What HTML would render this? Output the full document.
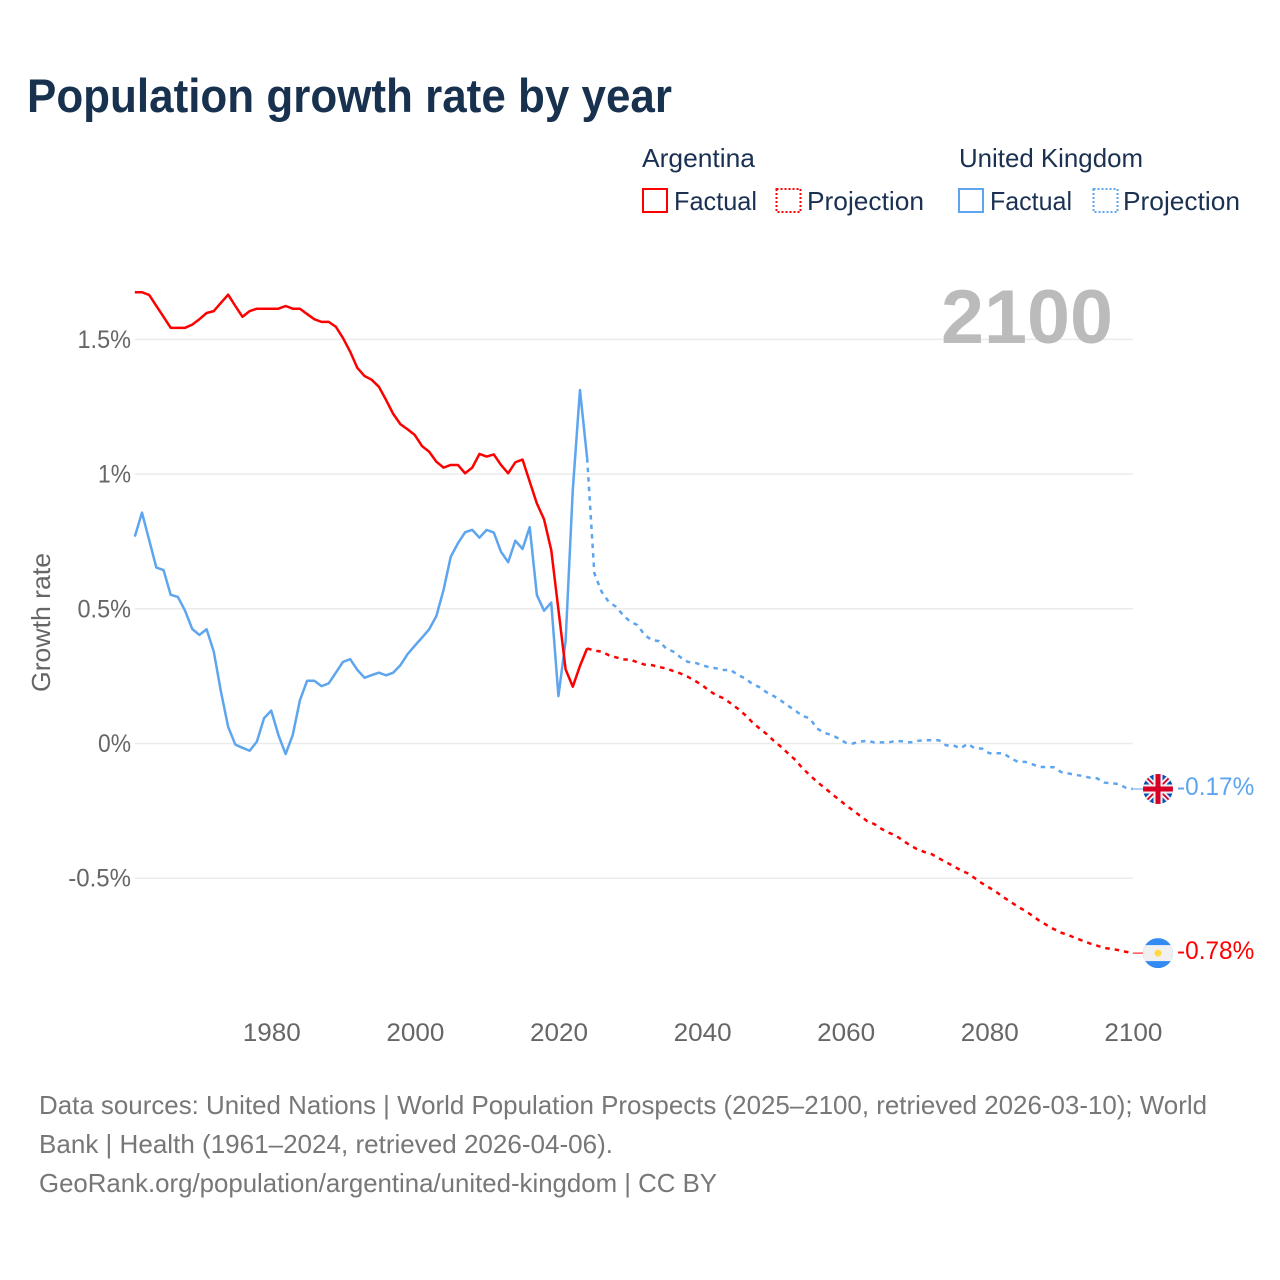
<!DOCTYPE html>
<html lang="en">
<head>
<meta charset="utf-8">
<title>Population growth rate by year</title>
<style>
html,body{margin:0;padding:0;background:#fff;width:1280px;height:1280px;overflow:hidden}
svg{display:block;font-family:"Liberation Sans",sans-serif}
</style>
</head>
<body>
<svg id="chart" width="1280" height="1280" viewBox="0 0 1280 1280" xmlns="http://www.w3.org/2000/svg">
  <defs>
    <clipPath id="flag-clip"><circle cx="0" cy="0" r="15"/></clipPath>
  </defs>
  <rect width="1280" height="1280" fill="#fff"/>
  <text x="27" y="112" font-size="47" font-weight="700" fill="#18314f" textLength="645" lengthAdjust="spacingAndGlyphs">Population growth rate by year</text>

  <g font-size="26" fill="#1b3152">
    <text x="642" y="167" textLength="113" lengthAdjust="spacingAndGlyphs">Argentina</text>
    <text x="959" y="167" textLength="184" lengthAdjust="spacingAndGlyphs">United Kingdom</text>
    <rect x="643" y="189" width="24" height="23" fill="none" stroke="#ff0000" stroke-width="2"/>
    <text x="674" y="210" textLength="83" lengthAdjust="spacingAndGlyphs">Factual</text>
    <rect x="776.500" y="189" width="24" height="23" fill="none" stroke="#ff0000" stroke-width="2" stroke-dasharray="2 2"/>
    <text x="807" y="210" textLength="117" lengthAdjust="spacingAndGlyphs">Projection</text>
    <rect x="959" y="189" width="24" height="23" fill="none" stroke="#5da5ee" stroke-width="2"/>
    <text x="990" y="210" textLength="82" lengthAdjust="spacingAndGlyphs">Factual</text>
    <rect x="1093.500" y="189" width="24" height="23" fill="none" stroke="#5da5ee" stroke-width="2" stroke-dasharray="2 2"/>
    <text x="1123" y="210" textLength="117" lengthAdjust="spacingAndGlyphs">Projection</text>
  </g>

  <g id="grid"></g>
  <text x="941" y="343" font-size="76" font-weight="700" fill="#bbbbbb" textLength="172" lengthAdjust="spacingAndGlyphs">2100</text>
  <g id="y-axis" font-size="25" fill="#666666" text-anchor="end"></g>
  <g id="x-axis" font-size="25" fill="#666666" text-anchor="middle"></g>
  <text transform="translate(50 692) rotate(-90)" font-size="26" fill="#666666" textLength="139" lengthAdjust="spacingAndGlyphs">Growth rate</text>
  <g id="series"></g>

  <g id="flag-uk">
    <g clip-path="url(#flag-clip)">
      <rect x="-15" y="-15" width="30" height="30" fill="#0a4fae"/>
      <path d="M-15 -15 L15 15 M15 -15 L-15 15" stroke="#f0f0f0" stroke-width="5.500"/>
      <path d="M-15 -15 L15 15 M15 -15 L-15 15" stroke="#d80027" stroke-width="1.800"/>
      <path d="M-15 0 H15 M0 -15 V15" stroke="#f0f0f0" stroke-width="9"/>
      <path d="M-15 0 H15 M0 -15 V15" stroke="#d80027" stroke-width="5"/>
    </g>
  </g>
  <g id="flag-ar">
    <g clip-path="url(#flag-clip)">
      <rect x="-15" y="-15" width="30" height="30" fill="#338af3"/>
      <rect x="-15" y="-8" width="30" height="16" fill="#f0f0f0"/>
      <circle cx="0" cy="0" r="3.500" fill="#ffda44"/>
    </g>
  </g>
  <g id="end-labels" font-size="25"></g>

  <g font-size="26" fill="#777777">
    <text x="39" y="1114" textLength="1168" lengthAdjust="spacingAndGlyphs">Data sources: United Nations | World Population Prospects (2025–2100, retrieved 2026-03-10); World</text>
    <text x="39" y="1153" textLength="574" lengthAdjust="spacingAndGlyphs">Bank | Health (1961–2024, retrieved 2026-04-06).</text>
    <text x="39" y="1192" textLength="678" lengthAdjust="spacingAndGlyphs">GeoRank.org/population/argentina/united-kingdom | CC BY</text>
  </g>
</svg>
<script>
const factualStartYear = 1961;
const projectionStartYear = 2024;
const xTickYears = [1980, 2000, 2020, 2040, 2060, 2080, 2100];
const yTickValues = [1.5, 1, 0.5, 0, -0.5];
const yTickLabels = ["1.5%", "1%", "0.5%", "0%", "-0.5%"];
const endLabelUk = "-0.17%";
const endLabelArgentina = "-0.78%";

const argentinaFactual = [
  1.675,1.675,1.665,1.624,1.584,1.543,1.543,1.543,1.555,1.575,
  1.598,1.605,1.636,1.666,1.624,1.584,1.605,1.614,1.614,1.614,
  1.614,1.624,1.614,1.614,1.594,1.575,1.565,1.565,1.547,1.505,
  1.454,1.394,1.364,1.350,1.324,1.275,1.223,1.185,1.166,1.145,
  1.104,1.083,1.046,1.024,1.034,1.034,1.003,1.024,1.075,1.065,
  1.073,1.034,1.003,1.044,1.054,0.972,0.891,0.832,0.718,0.497,
  0.275,0.211,0.288,0.353
];
const ukFactual = [
  0.768,0.857,0.755,0.653,0.644,0.552,0.544,0.493,0.425,0.403,
  0.424,0.341,0.192,0.062,-0.004,-0.016,-0.027,0.007,0.094,0.122,
  0.032,-0.039,0.032,0.161,0.233,0.233,0.213,0.223,0.263,0.303,
  0.313,0.273,0.244,0.254,0.263,0.253,0.263,0.291,0.332,0.363,
  0.393,0.424,0.473,0.570,0.693,0.743,0.784,0.793,0.764,0.793,
  0.783,0.712,0.673,0.753,0.722,0.803,0.551,0.493,0.523,0.176,
  0.380,0.941,1.312,1.059
];
const argentinaProjection = [
  0.353,0.345,0.341,0.328,0.320,0.312,0.312,0.301,0.293,0.291,
  0.284,0.279,0.269,0.260,0.248,0.233,0.217,0.196,0.179,0.168,
  0.149,0.129,0.106,0.079,0.056,0.035,0.010,-0.012,-0.037,-0.061,
  -0.092,-0.117,-0.142,-0.163,-0.185,-0.207,-0.228,-0.248,-0.268,-0.288,
  -0.299,-0.317,-0.331,-0.342,-0.361,-0.378,-0.393,-0.403,-0.411,-0.426,
  -0.441,-0.455,-0.470,-0.482,-0.500,-0.519,-0.535,-0.551,-0.571,-0.588,
  -0.606,-0.621,-0.639,-0.658,-0.674,-0.689,-0.702,-0.711,-0.722,-0.732,
  -0.742,-0.750,-0.759,-0.762,-0.767,-0.773,-0.778
];
const ukProjection = [
  1.059,0.632,0.564,0.526,0.508,0.477,0.452,0.440,0.403,0.384,
  0.380,0.353,0.341,0.320,0.303,0.300,0.291,0.283,0.279,0.273,
  0.273,0.254,0.242,0.221,0.209,0.190,0.176,0.159,0.140,0.122,
  0.102,0.094,0.056,0.040,0.032,0.019,0.003,0.000,0.007,0.010,
  0.004,0.004,0.004,0.010,0.008,0.004,0.010,0.012,0.012,0.012,
  -0.007,-0.007,-0.018,-0.001,-0.018,-0.019,-0.036,-0.036,-0.036,-0.055,
  -0.068,-0.068,-0.077,-0.087,-0.087,-0.088,-0.106,-0.111,-0.117,-0.120,
  -0.127,-0.129,-0.145,-0.148,-0.150,-0.164,-0.169
];

const NS = "http://www.w3.org/2000/svg";
const RED = "#ff0000";
const BLUE = "#5da5ee";
function xScale(year) { return 134.8 + (year - 1961) * 7.18; }
function yScale(value) { return 743.5 - value * 269.4; }
function labelWidth(text, size) {
  let em = 0;
  for (const ch of text) {
    if (ch === ".") em += 0.24;
    else if (ch === "%") em += 0.74;
    else if (ch === "-") em += 0.37;
    else em += 0.58;
  }
  return em * size;
}
function linePath(values, startYear) {
  return values.map(function (v, i) {
    return (i ? "L" : "M") + xScale(startYear + i).toFixed(2) + " " + yScale(v).toFixed(2);
  }).join(" ");
}
function makeText(parent, text, x, y, size) {
  const t = document.createElementNS(NS, "text");
  t.setAttribute("x", x);
  t.setAttribute("y", y);
  t.setAttribute("textLength", labelWidth(text, size).toFixed(1));
  t.setAttribute("lengthAdjust", "spacingAndGlyphs");
  t.textContent = text;
  parent.appendChild(t);
  return t;
}
function makeLine(parent, d, color, dashed) {
  const p = document.createElementNS(NS, "path");
  p.setAttribute("d", d);
  p.setAttribute("fill", "none");
  p.setAttribute("stroke", color);
  p.setAttribute("stroke-width", "2.500");
  p.setAttribute("stroke-linejoin", "round");
  if (dashed) p.setAttribute("stroke-dasharray", "4.500 5");
  parent.appendChild(p);
  return p;
}

const gridGroup = document.getElementById("grid");
const yAxisGroup = document.getElementById("y-axis");
yTickValues.forEach(function (v, i) {
  const l = document.createElementNS(NS, "line");
  
  
  l.setAttribute("x1", xScale(1961).toFixed(1));
  l.setAttribute("x2", xScale(2100).toFixed(1));
  l.setAttribute("y1", yScale(v).toFixed(1));
  l.setAttribute("y2", yScale(v).toFixed(1));
  l.setAttribute("stroke", "#ebebeb");
  l.setAttribute("stroke-width", "1.500");
  gridGroup.appendChild(l);
  const t = makeText(yAxisGroup, yTickLabels[i], 131, (yScale(v) + 8.500).toFixed(1), 25);
  
  
});

const xAxisGroup = document.getElementById("x-axis");
xTickYears.forEach(function (year) {
  const t = makeText(xAxisGroup, String(year), (xScale(year) + 0.6).toFixed(1), 1041, 25);
  
  
});

const seriesGroup = document.getElementById("series");

const ukFactualLine = makeLine(seriesGroup, linePath(ukFactual, factualStartYear), BLUE, false);



const argFactualLine = makeLine(seriesGroup, linePath(argentinaFactual, factualStartYear), RED, false);



const ukProjectionLine = makeLine(seriesGroup, linePath(ukProjection, projectionStartYear), BLUE, true);



const argProjectionLine = makeLine(seriesGroup, linePath(argentinaProjection, projectionStartYear), RED, true);



const ukEnd = ukProjection[ukProjection.length - 1];
const arEnd = argentinaProjection[argentinaProjection.length - 1];

const ukConnector = makeLine(seriesGroup, "M" + xScale(2100).toFixed(1) + " " + yScale(ukEnd).toFixed(1) + " H1143", BLUE, false);
ukConnector.setAttribute("stroke-width", "1");



const arConnector = makeLine(seriesGroup, "M" + xScale(2100).toFixed(1) + " " + yScale(arEnd).toFixed(1) + " H1143", RED, false);
arConnector.setAttribute("stroke-width", "1");



document.getElementById("flag-uk").setAttribute("transform", "translate(1158 " + yScale(ukEnd).toFixed(1) + ")");
document.getElementById("flag-ar").setAttribute("transform", "translate(1158 " + yScale(arEnd).toFixed(1) + ")");

const endGroup = document.getElementById("end-labels");
const ukEndLabel = makeText(endGroup, endLabelUk, 1177, (yScale(ukEnd) + 6).toFixed(1), 25);
ukEndLabel.setAttribute("fill", BLUE);



const arEndLabel = makeText(endGroup, endLabelArgentina, 1177, (yScale(arEnd) + 6).toFixed(1), 25);
arEndLabel.setAttribute("fill", RED);


</script>
</body>
</html>
